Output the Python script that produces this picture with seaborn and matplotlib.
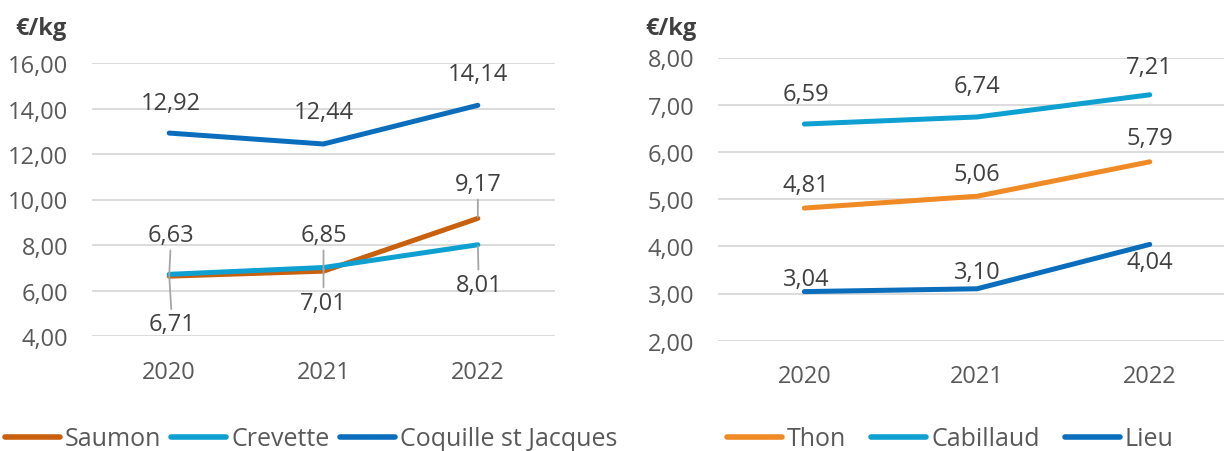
import matplotlib
matplotlib.use("Agg")
import matplotlib.pyplot as plt
import seaborn as sns
import pandas as pd

# ---------------- data ----------------
years = [2020, 2021, 2022]

left_series = ["Saumon", "Crevette", "Coquille st Jacques"]
saumon = [6.63, 6.85, 9.17]
crevette = [6.71, 7.01, 8.01]
coquille = [12.92, 12.44, 14.14]

right_series = ["Thon", "Cabillaud", "Lieu"]
thon = [4.81, 5.06, 5.79]
cabillaud = [6.59, 6.74, 7.21]
lieu = [3.04, 3.10, 4.04]

left_ticks = [4, 6, 8, 10, 12, 14, 16]
right_ticks = [2, 3, 4, 5, 6, 7, 8]
unit_label = "€/kg"

# ---------------- style ----------------
sns.set_style("white")
plt.rcParams["font.family"] = ["Open Sans", "DejaVu Sans"]

FS = 17
LFS = 18
TXT = "#404040"
TICK = "#595959"
GRID = "#D9D9D9"
LEADER = "#A6A6A6"

left_colors = {"Saumon": "#C8600E", "Crevette": "#0EA0D0", "Coquille st Jacques": "#0A6EBD"}
right_colors = {"Thon": "#F08A24", "Cabillaud": "#0EA0D0", "Lieu": "#0A6EBD"}

# label offsets (pixels, x right / y up, baseline) and leader flag
left_offsets = {
    "Saumon": [(2, 35), (0, 30), (0, 28)],
    "Crevette": [(3, -56), (0, -41), (1, -46)],
    "Coquille st Jacques": [(2, 24), (0, 26), (0, 25)],
}
left_leader = {"Saumon": True, "Crevette": True, "Coquille st Jacques": False}
right_offsets = {
    "Thon": [(2, 17), (0, 16), (0, 18)],
    "Cabillaud": [(2, 24), (0, 25), (0, 22)],
    "Lieu": [(2, 7), (0, 11), (0, -24)],
}

W, H = 1224, 452
fig = plt.figure(figsize=(W / 100, H / 100), dpi=100)

def make_df(names, values):
    rows = []
    for n, vals in zip(names, values):
        for y, v in zip(years, vals):
            rows.append({"Année": y, "Prix": v, "Espèce": n})
    return pd.DataFrame(rows)

def fmt(v):
    return f"{v:.2f}".replace(".", ",")

def draw(ax, df, names, colors, ticks, offsets, leaders, xmax):
    sns.lineplot(data=df, x="Année", y="Prix", hue="Espèce", hue_order=names,
                 palette=colors, linewidth=3.6, ax=ax, legend=True,
                 solid_capstyle="round")
    ax.set_xlim(2019.5, xmax)
    ax.set_ylim(ticks[0], ticks[-1])
    ax.set_yticks(ticks)
    ax.set_yticklabels([fmt(t) for t in ticks])
    ax.set_xticks(years)
    ax.set_xticklabels([str(y) for y in years])
    ax.tick_params(axis="both", length=0, labelsize=FS, labelcolor=TICK)
    ax.tick_params(axis="y", pad=17)
    ax.tick_params(axis="x", pad=17)
    ax.set_xlabel("")
    ax.set_ylabel("")
    for s in ax.spines.values():
        s.set_visible(False)
    ax.grid(axis="y", color=GRID, linewidth=1.3)
    ax.set_axisbelow(True)
    for n in names:
        sub = df[df["Espèce"] == n]
        for (x, v), off in zip(zip(sub["Année"], sub["Prix"]), offsets[n]):
            kw = {}
            if leaders.get(n, False):
                kw["arrowprops"] = dict(arrowstyle="-", color=LEADER, lw=1.3,
                                        shrinkA=0, shrinkB=1)
            ax.annotate(fmt(v), xy=(x, v), xytext=off, textcoords="offset pixels",
                        ha="center", va="baseline", fontsize=FS, color=TXT,
                        zorder=5, **kw)

# left panel
axL = fig.add_axes([92 / W, (H - 337) / H, (555 - 92) / W, 273 / H])
dfL = make_df(left_series, [saumon, crevette, coquille])
draw(axL, dfL, left_series, left_colors, left_ticks, left_offsets, left_leader, 2022.5)

# right panel
axR = fig.add_axes([718 / W, (H - 341.7) / H, (W - 718) / W, 283.2 / H])
dfR = make_df(right_series, [thon, cabillaud, lieu])
draw(axR, dfR, right_series, right_colors, right_ticks, right_offsets, {}, 2022.43)

# legends
for ax, x0, cs in [(axL, 5, 0.4), (axR, 727, 1.0)]:
    h, l = ax.get_legend_handles_labels()
    for hh in h:
        hh.set_linewidth(4)
        hh.set_solid_capstyle("round")
    ax.legend(h, l, loc="center left", bbox_to_anchor=(x0 / W, 1 - 440 / H),
              bbox_transform=fig.transFigure, ncol=3, frameon=False,
              handlelength=2.2, handletextpad=0.2, columnspacing=cs,
              borderpad=0, borderaxespad=0, prop={"size": LFS},
              labelcolor=TICK)

# unit labels
fig.text(15 / W, 1 - 29 / H, unit_label, ha="left", va="center",
         fontsize=FS, fontweight="bold", color=TXT)
fig.text(645 / W, 1 - 29 / H, unit_label, ha="left", va="center",
         fontsize=FS, fontweight="bold", color=TXT)

fig.savefig("out.png", dpi=100)
